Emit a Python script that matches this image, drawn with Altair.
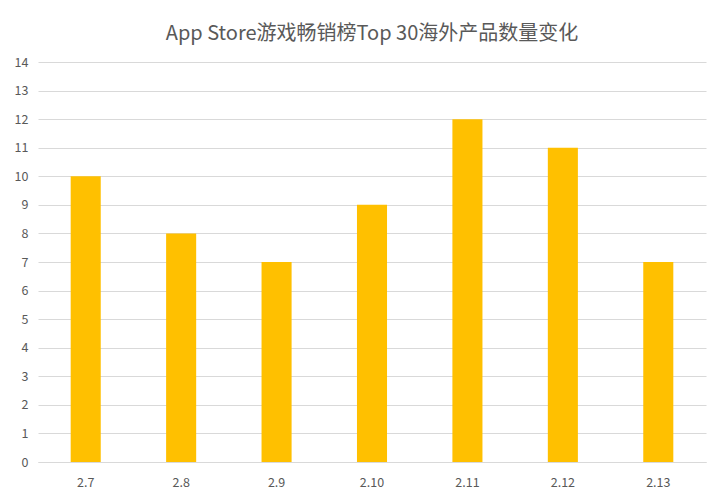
import altair as alt
import pandas as pd

dates = ["2.7", "2.8", "2.9", "2.10", "2.11", "2.12", "2.13"]
counts = [10, 8, 7, 9, 12, 11, 7]
y_ticks = list(range(0, 15))

df = pd.DataFrame({"date": dates, "count": counts})

FONT = "Noto Sans CJK SC"
GRAY = "#595959"

chart = alt.Chart(df).mark_bar(color="#FFC000").encode(
    x=alt.X("date:N", sort=dates, title=None,
            scale=alt.Scale(paddingInner=0.685, paddingOuter=0.3425),
            axis=alt.Axis(labelAngle=0, ticks=False, domainColor="#D9D9D9",
                          labelPadding=14, labelFontSize=12.5, labelColor=GRAY,
                          labelFont=FONT, grid=False)),
    y=alt.Y("count:Q", title=None,
            scale=alt.Scale(domain=[0, 14], nice=False),
            axis=alt.Axis(values=y_ticks, ticks=False, domain=False,
                          gridColor="#D9D9D9", labelPadding=10, labelFontSize=12.5,
                          labelColor=GRAY, labelFont=FONT)),
).properties(
    width=668, height=400,
    title=alt.TitleParams("App Store游戏畅销榜Top 30海外产品数量变化",
                          font=FONT, fontSize=20, fontWeight="normal",
                          color=GRAY, anchor="middle", offset=12),
    autosize=alt.AutoSizeParams(type="none"),
    padding={"left": 30, "top": 54, "right": 12, "bottom": 34},
).configure_view(stroke=None)

chart.save("out.html", embed_options={"renderer": "svg", "actions": False})
